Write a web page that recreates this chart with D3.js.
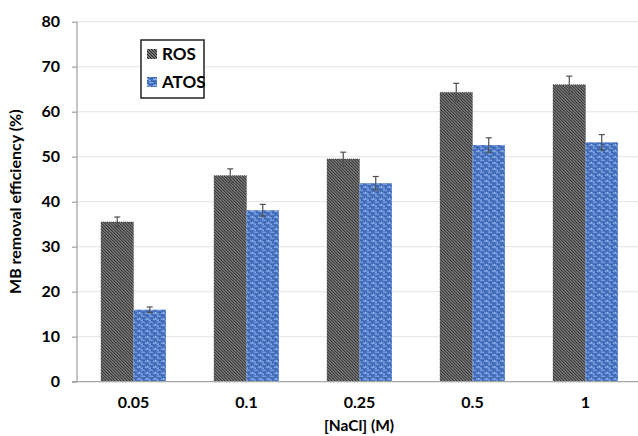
<!DOCTYPE html>
<style>body { margin: 0; } svg { display: block; }</style>
<svg width="638" height="436"></svg>
<script src="https://d3js.org/d3.v7.min.js"></script>
<script>

var categories = ["0.05", "0.1", "0.25", "0.5", "1"],
    series = ["ROS", "ATOS"],
    rosValues = [35.5, 45.8, 49.5, 64.3, 66.0],
    rosErrors = [1.1, 1.5, 1.5, 2.0, 1.9],
    atosValues = [16.0, 38.1, 44.1, 52.6, 53.2],
    atosErrors = [0.6, 1.3, 1.5, 1.6, 1.7],
    yTicks = [0, 10, 20, 30, 40, 50, 60, 70, 80];

var svg = d3.select("svg"),
    margin = {top: 21.7, right: -4, bottom: 54.3, left: 77},
    width = +svg.attr("width") - margin.left - margin.right,
    height = +svg.attr("height") - margin.top - margin.bottom,
    font = "Lato, 'Open Sans', sans-serif";

svg.append("rect").attr("width", 638).attr("height", 436).attr("fill", "#fff");

var defs = svg.append("defs");

// ROS: fine dark diagonal hatch
var hatch = defs.append("pattern")
    .attr("id", "hatch")
    .attr("patternUnits", "userSpaceOnUse")
    .attr("width", 3).attr("height", 3);
hatch.append("rect").attr("width", 3).attr("height", 3).attr("fill", "#dcdcdc");
hatch.append("path")
    .attr("d", "M-1,-1L4,4M-1,2L1,4M2,-1L4,1")
    .attr("stroke", "#222")
    .attr("stroke-width", 1.5);

// ATOS: blue woven texture
var weave = defs.append("pattern")
    .attr("id", "weave")
    .attr("patternUnits", "userSpaceOnUse")
    .attr("width", 8).attr("height", 6);
weave.append("rect").attr("width", 8).attr("height", 6).attr("fill", "#4c79c8");
[[0, 0, 4, 1, "#86a8e2"], [5, 1, 3, 1, "#365ea9"], [1, 2, 3, 1, "#365ea9"],
 [4, 3, 4, 1, "#90b0e6"], [0, 4, 2, 1, "#90b0e6"], [3, 5, 4, 1, "#3a62ac"],
 [6, 2, 1, 1, "#afc6ef"], [2, 4, 1, 1, "#2f5396"]].forEach(function(r) {
  weave.append("rect").attr("x", r[0]).attr("y", r[1])
      .attr("width", r[2]).attr("height", r[3]).attr("fill", r[4]);
});

var g = svg.append("g").attr("transform", "translate(" + margin.left + "," + margin.top + ")");

var x0 = d3.scaleBand().domain(categories).range([0, width]).paddingInner(0.425).paddingOuter(0.2125);
var x1 = d3.scaleBand().domain(series).range([0, x0.bandwidth()]);
var y = d3.scaleLinear().domain([0, 80]).range([height, 0]);

// gridlines
g.append("g")
  .selectAll("line")
  .data(yTicks.slice(1))
  .enter().append("line")
    .attr("x1", 0).attr("x2", width)
    .attr("y1", function(d) { return y(d); })
    .attr("y2", function(d) { return y(d); })
    .attr("stroke", "#e4e4e4")
    .attr("stroke-width", 1);

var data = categories.map(function(c, i) {
  return [
    {cat: c, key: "ROS", value: rosValues[i], err: rosErrors[i]},
    {cat: c, key: "ATOS", value: atosValues[i], err: atosErrors[i]}
  ];
});

var groups = g.append("g")
  .selectAll("g")
  .data(data)
  .enter().append("g")
    .attr("transform", function(d, i) { return "translate(" + x0(categories[i]) + ",0)"; });

groups.selectAll("rect")
  .data(function(d) { return d; })
  .enter().append("rect")
    .attr("x", function(d) { return x1(d.key); })
    .attr("y", function(d) { return y(d.value); })
    .attr("width", x1.bandwidth())
    .attr("height", function(d) { return height - y(d.value); })
    .attr("fill", function(d) { return d.key === "ROS" ? "url(#hatch)" : "url(#weave)"; })
    .attr("stroke", function(d) { return d.key === "ROS" ? "#444" : "none"; })
    .attr("stroke-width", 0.6)
    .attr("stroke-dasharray", "1,1");

var err = groups.selectAll(".err")
  .data(function(d) { return d; })
  .enter().append("g")
    .attr("class", "err")
    .attr("stroke", "#505050")
    .attr("stroke-width", 1.2);

err.append("line")
    .attr("x1", function(d) { return x1(d.key) + x1.bandwidth() / 2; })
    .attr("x2", function(d) { return x1(d.key) + x1.bandwidth() / 2; })
    .attr("y1", function(d) { return y(d.value - d.err); })
    .attr("y2", function(d) { return y(d.value + d.err); });
err.append("line")
    .attr("x1", function(d) { return x1(d.key) + x1.bandwidth() / 2 - 3; })
    .attr("x2", function(d) { return x1(d.key) + x1.bandwidth() / 2 + 3; })
    .attr("y1", function(d) { return y(d.value + d.err); })
    .attr("y2", function(d) { return y(d.value + d.err); });
err.append("line")
    .attr("x1", function(d) { return x1(d.key) + x1.bandwidth() / 2 - 3; })
    .attr("x2", function(d) { return x1(d.key) + x1.bandwidth() / 2 + 3; })
    .attr("y1", function(d) { return y(d.value - d.err); })
    .attr("y2", function(d) { return y(d.value - d.err); });

// axes
var yAxis = g.append("g")
    .call(d3.axisLeft(y).tickValues(yTicks).tickSize(5).tickPadding(12));
var xAxis = g.append("g")
    .attr("transform", "translate(0," + height + ")")
    .call(d3.axisBottom(x0).tickSize(0).tickPadding(15));

[yAxis, xAxis].forEach(function(a) {
  a.selectAll("path, line").attr("stroke", "#a6a6a6").attr("stroke-width", 1.3);
  a.selectAll("text")
      .attr("font-family", font)
      .attr("font-weight", "bold")
      .attr("font-size", 16)
      .attr("fill", "#000");
});
yAxis.select(".domain").attr("d", "M0," + height + "V0");
xAxis.select(".domain").attr("d", "M-5,0H" + width);

svg.append("text")
    .attr("transform", "translate(21," + (margin.top + height / 2) + ") rotate(-90)")
    .attr("text-anchor", "middle")
    .attr("font-family", font)
    .attr("font-weight", "bold")
    .attr("font-size", 16)
    .text("MB removal efficiency (%)");

svg.append("text")
    .attr("x", 359)
    .attr("y", 431)
    .attr("text-anchor", "middle")
    .attr("font-family", font)
    .attr("font-weight", "bold")
    .attr("font-size", 15.5)
    .text("[NaCl] (M)");

// legend
var legend = svg.append("g").attr("transform", "translate(141,40)");
legend.append("rect")
    .attr("width", 63).attr("height", 58)
    .attr("fill", "#fff")
    .attr("stroke", "#222")
    .attr("stroke-width", 1.5);
var item = legend.selectAll(".item")
  .data(series)
  .enter().append("g")
    .attr("class", "item")
    .attr("transform", function(d, i) { return "translate(0," + (14 + i * 28) + ")"; });
item.append("rect")
    .attr("x", 6).attr("y", -5)
    .attr("width", 10).attr("height", 10)
    .attr("fill", function(d) { return d === "ROS" ? "url(#hatch)" : "url(#weave)"; });
item.append("text")
    .attr("x", 21)
    .attr("dy", "0.35em")
    .attr("font-family", font)
    .attr("font-weight", "bold")
    .attr("font-size", 17)
    .text(function(d) { return d; });

</script>
